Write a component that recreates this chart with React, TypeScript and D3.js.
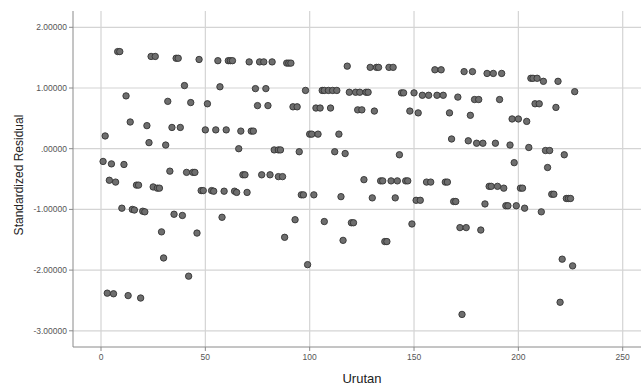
import React from 'react';
import * as d3 from 'd3';

const urutan = [
  1, 2, 3, 4, 5, 6, 7, 8, 9, 10, 11, 12, 13, 14, 15, 16, 17, 18, 19, 20,
  21, 22, 23, 24, 25, 26, 27, 28, 29, 30, 31, 32, 33, 34, 35, 36, 37, 38, 39, 40,
  41, 42, 43, 44, 45, 46, 47, 48, 49, 50, 51, 53, 54, 55, 56, 57, 58, 59, 60,
  61, 62, 63, 64, 65, 66, 67, 68, 69, 70, 71, 72, 73, 74, 75, 76, 77, 78, 79, 80,
  81, 82, 83, 85, 85, 86, 87, 88, 89, 90, 91, 92, 93, 94, 95, 96, 97, 98, 99, 100,
  101, 102, 103, 104, 105, 106, 107, 107, 109, 110, 111, 112, 113, 114, 115, 116, 117, 118, 119, 120,
  121, 122, 123, 124, 125, 126, 127, 128, 129, 130, 131, 132, 133, 134, 135, 136, 137, 138, 139, 140,
  141, 142, 143, 144, 145, 146, 147, 148, 149, 150, 151, 152, 153, 154, 156, 157, 158, 160,
  161, 163, 164, 165, 166, 167, 168, 169, 170, 171, 172, 173, 174, 175, 176, 177, 178, 179, 180,
  181, 182, 183, 184, 185, 186, 187, 188, 189, 190, 191, 192, 193, 194, 195, 196, 197, 198, 199, 200,
  201, 202, 203, 204, 205, 206, 207, 208, 209, 210, 211, 212, 213, 214, 215, 216, 217, 218, 219, 220,
  221, 222, 223, 224, 225, 226, 227,
];

const residual = [
  -0.21, 0.21, -2.38, -0.52, -0.25, -2.39, -0.55, 1.6, 1.6, -0.98, -0.26, 0.87, -2.42, 0.44, -1.0, -1.01, -0.6, -0.6, -2.46, -1.03,
  -1.04, 0.38, 0.1, 1.52, -0.63, 1.52, -0.65, -0.65, -1.37, -1.8, 0.06, 0.78, -0.37, 0.35, -1.08, 1.49, 1.49, 0.35, -1.1, 1.04,
  -0.39, -2.1, 0.76, -0.39, -0.39, -1.39, 1.47, -0.69, -0.69, 0.31, 0.74, -0.69, -0.7, 0.31, 1.45, 1.02, -1.13, -0.7, 0.31,
  1.45, 1.45, 1.45, -0.7, -0.72, 0.0, 0.29, -0.43, -0.43, -0.72, 1.43, 0.29, 0.29, 0.99, 0.71, 1.43, -0.43, 1.43, 0.99, 0.71,
  -0.43, 1.43, -0.02, -0.02, -0.46, -0.02, -0.46, -1.46, 1.41, 1.41, 1.41, 0.69, -1.17, 0.69, -0.05, -0.76, -0.76, 0.96, -1.91, 0.24,
  0.24, -0.76, 0.67, 0.24, 0.67, 0.96, 0.96, -1.2, 0.96, 0.67, 0.96, -0.05, 0.96, 0.24, -0.79, -1.51, -0.08, 1.36, 0.93, -1.22,
  -1.22, 0.93, 0.64, 0.93, 0.64, -0.51, 0.93, 0.93, 1.34, -0.81, 0.62, 1.34, 1.34, -0.53, -0.53, -1.53, -1.53, 1.34, -0.53, 1.34,
  -0.81, -0.53, -0.1, 0.92, 0.92, -0.53, -0.53, 0.62, -1.24, 0.92, -0.85, 0.59, -0.85, 0.88, -0.55, 0.88, -0.55, 1.3,
  0.88, 1.3, 0.88, -0.55, -0.55, 0.59, 0.16, -0.87, -0.87, 0.85, -1.3, -2.73, 1.27, -1.3, 0.13, 0.55, 1.27, 0.81, 0.09,
  0.81, -1.34, 0.09, -0.91, 1.24, -0.62, -0.62, 1.24, 0.09, -0.62, 0.81, 1.24, -0.65, -0.94, -0.94, 0.06, 0.49, -0.23, -0.94, 0.49,
  -0.65, -0.65, -0.98, 0.45, 0.02, 1.16, 1.16, 0.74, 1.16, 0.74, -1.04, 1.11, -0.03, -0.31, -0.03, -0.75, -0.75, 0.68, 1.11, -2.53,
  -1.82, -0.1, -0.82, -0.82, -0.82, -1.93, 0.94,
];

const xTicks = [0, 50, 100, 150, 200, 250];
const yTicks = [-3, -2, -1, 0, 1, 2];

const W = 641;
const H = 387;
const plot = { left: 73, right: 641, top: 11, bottom: 347 };

const fmtY = (v: number) => {
  const s = d3.format('.5f')(Math.abs(v));
  const body = s.startsWith('0') ? s.slice(1) : s;
  return (v < 0 ? '-' : '') + body;
};

export default function App() {
  const x = d3.scaleLinear().domain([0, 250]).range([101, 622.7]);
  const y = d3.scaleLinear().domain([-3, 2]).range([330.8, 27.3]);

  const points = urutan.map((u, i) => ({ u, r: residual[i] }));
  const font = '"Liberation Sans", Arial, sans-serif';

  return (
    <svg width={W} height={H} style={{ position: 'absolute', left: 0, top: 0, background: '#fff' }}>
      {/* grid */}
      {yTicks.map((t) => (
        <line key={'gy' + t} x1={plot.left} x2={plot.right} y1={y(t)} y2={y(t)}
          stroke="#d4d4d4" strokeWidth={1.2} />
      ))}
      {xTicks.map((t) => (
        <line key={'gx' + t} x1={x(t)} x2={x(t)} y1={plot.top} y2={plot.bottom}
          stroke="#d4d4d4" strokeWidth={1.2} />
      ))}

      {/* axes */}
      <line x1={plot.left} x2={plot.left} y1={plot.top} y2={plot.bottom} stroke="#8a8a8a" />
      <line x1={plot.left} x2={plot.right} y1={plot.bottom} y2={plot.bottom} stroke="#8a8a8a" />
      {yTicks.map((t) => (
        <g key={'ty' + t}>
          <line x1={plot.left - 4} x2={plot.left} y1={y(t)} y2={y(t)} stroke="#8a8a8a" />
          <text x={plot.left - 6} y={y(t)} dy="0.35em" textAnchor="end"
            fontFamily={font} fontSize={8.5} fill="#555">{fmtY(t)}</text>
        </g>
      ))}
      {xTicks.map((t) => (
        <g key={'tx' + t}>
          <line x1={x(t)} x2={x(t)} y1={plot.bottom} y2={plot.bottom + 4} stroke="#8a8a8a" />
          <text x={x(t)} y={plot.bottom + 13} textAnchor="middle"
            fontFamily={font} fontSize={8.5} fill="#555">{t}</text>
        </g>
      ))}

      {/* titles */}
      <text x={362} y={383} textAnchor="middle"
        fontFamily={font} fontSize={13} fill="#222">Urutan</text>
      <text transform={`translate(22.5,175) rotate(-90)`}
        textAnchor="middle" fontFamily={font} fontSize={12} fill="#222">Standardized Residual</text>

      {/* points */}
      {points.map((p, i) => (
        <circle key={i} cx={x(p.u)} cy={y(p.r)} r={3.2}
          fill="#6e6e6e" stroke="#333" strokeWidth={0.9} />
      ))}
    </svg>
  );
}
